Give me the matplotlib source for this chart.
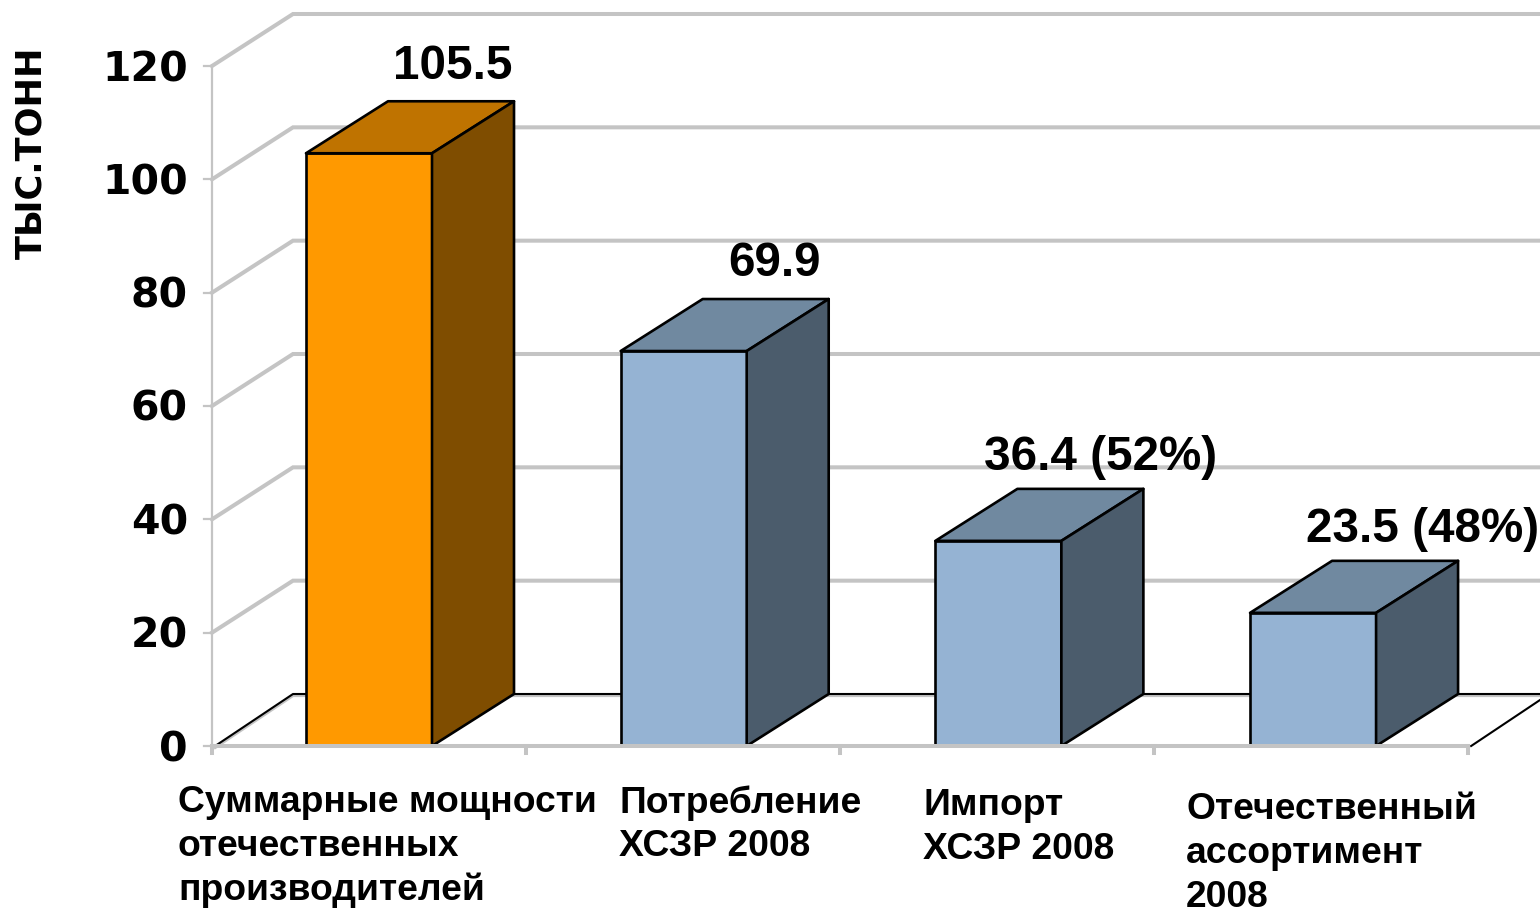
import matplotlib
matplotlib.use("Agg")
import matplotlib.pyplot as plt
from matplotlib.patches import Polygon

plt.rcParams['font.family'] = ['Liberation Sans', 'DejaVu Sans']

categories = ["Суммарные мощности\nотечественных\nпроизводителей",
              "Потребление\nХСЗР 2008",
              "Импорт\nХСЗР 2008",
              "Отечественный\nассортимент\n2008"]
bar_heights = [104.6, 69.7, 36.2, 23.5]
value_labels = ["105.5", "69.9", "36.4 (52%)", "23.5 (48%)"]
front_colors = ["#FF9900", "#95B3D3", "#95B3D3", "#95B3D3"]
top_colors = ["#BF7300", "#7089A0", "#7089A0", "#7089A0"]
side_colors = ["#7F4D00", "#4B5C6C", "#4B5C6C", "#4B5C6C"]
y_ticks = [0, 20, 40, 60, 80, 100, 120]
y_title = "ТЫС.ТОНН"

W, H = 1540, 911
fig = plt.figure(figsize=(W / 100, H / 100), dpi=100)
L, R, T, B = 212, 1468, 66, 746
ax = fig.add_axes([L / W, 1 - B / H, (R - L) / W, (B - T) / H])
ax.set_xlim(0, 4)
ax.set_ylim(0, 120)
ax.axis("off")

px_x = 4 / (R - L)
px_y = 120 / (B - T)
dx = 81 * px_x
dy = 52 * px_y
bar_dx = 82 * px_x
xmax = (1545 - L) * px_x
GRID = "#C4C4C4"

for v in y_ticks[1:]:
    ax.plot([0, dx, xmax], [v, v + dy, v + dy], color=GRID, lw=2.9, clip_on=False,
            zorder=1, solid_joinstyle="miter")
ax.plot([0.01, dx, xmax], [-0.3, dy - 0.3, dy - 0.3], color=GRID, lw=2.0, clip_on=False, zorder=1)
ax.plot([0.01, dx, xmax], [0, dy, dy], color="black", lw=1.5, clip_on=False, zorder=1)
ax.plot([4.01, 4 + dx], [0, dy], color="black", lw=1.5, clip_on=False, zorder=1)

ax.plot([0, 0], [0, 120], color=GRID, lw=1.6, clip_on=False, zorder=2)
ax.plot([0, 4], [0, 0], color=GRID, lw=2.9, clip_on=False, zorder=4)
for i in range(5):
    ax.plot([i, i], [0, -7 * px_y], color=GRID, lw=2.9, clip_on=False, zorder=4)
for v in y_ticks:
    ax.plot([-8 * px_x, 0], [v, v], color=GRID, lw=1.6, clip_on=False, zorder=4)
    ax.text(-24 * px_x, v - 4 * px_y, str(v), ha="right", va="center", fontsize=29.5,
            fontweight="bold", family="DejaVu Sans", zorder=6)

width = 126 * px_x
for i, h in enumerate(bar_heights):
    c = 0.5 + i * 1.0022
    xl, xr = c - width / 2, c + width / 2
    ax.bar(c, h, width=width, color=front_colors[i], edgecolor="black", lw=1.9, zorder=3,
           clip_on=False)
    ax.add_patch(Polygon([(xl, h), (xr, h), (xr + bar_dx, h + dy), (xl + bar_dx, h + dy)],
                         fc=top_colors[i], ec="black", lw=1.9, zorder=3, clip_on=False,
                         joinstyle="round"))
    ax.add_patch(Polygon([(xr, 0), (xr + bar_dx, dy), (xr + bar_dx, h + dy), (xr, h)],
                         fc=side_colors[i], ec="black", lw=1.9, zorder=3, clip_on=False,
                         joinstyle="round"))

label_px = [(453, 67), (775, 264), (1101, 458), (1423, 529)]
for (px, py), s in zip(label_px, value_labels):
    ax.text((px - L) * px_x, (B - py) * px_y, s, ha="center", va="center", fontsize=34.3,
            fontweight="bold", zorder=6, clip_on=False)

cat_px = [(178, 785), (619, 785), (923, 788), (1186, 792)]
for (px, py), s in zip(cat_px, categories):
    ax.text((px - L) * px_x, (B - py) * px_y, s, ha="left", va="top", fontsize=26.8,
            fontweight="bold", linespacing=1.325, zorder=6, clip_on=False)

ax.text((31 - L) * px_x, (B - 152.5) * px_y, y_title, rotation=90, ha="center", va="center",
        fontsize=25.3, fontweight="bold", family="DejaVu Sans", zorder=6, clip_on=False)

fig.savefig("out.png", dpi=100)
